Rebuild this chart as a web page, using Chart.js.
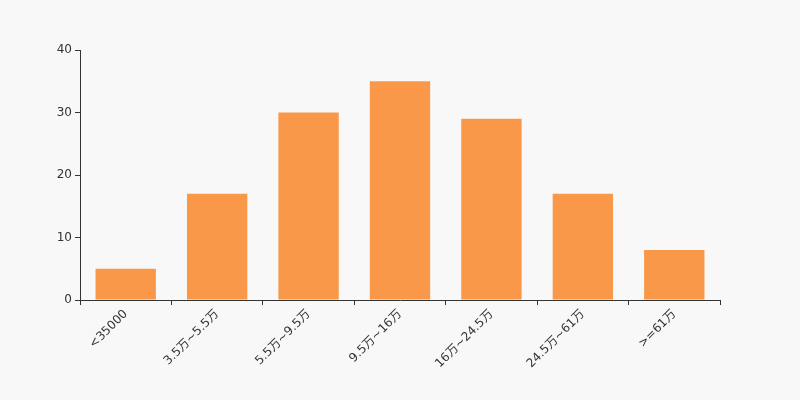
<!DOCTYPE html>
<html>
<head>
<meta charset="utf-8">
<script src="https://cdn.jsdelivr.net/npm/chart.js@4"></script>
<style>
html,body{margin:0;padding:0;background:#f8f8f8;}
#wrap{width:800px;height:400px;}
</style>
</head>
<body>
<div id="wrap"><canvas id="c" width="800" height="400"></canvas></div>
<script>
const categories = ["<35000", "3.5万~5.5万", "5.5万~9.5万", "9.5万~16万", "16万~24.5万", "24.5万~61万", ">=61万"];
const values = [5, 17, 30, 35, 29, 17, 8];
const yTicks = [0, 10, 20, 30, 40];

Chart.defaults.font.family = "'DejaVu Sans', 'Noto Sans CJK SC', sans-serif";
Chart.defaults.font.size = 12;
Chart.defaults.color = '#333';

new Chart(document.getElementById('c'), {
  type: 'bar',
  data: {
    labels: categories,
    datasets: [{
      data: values,
      backgroundColor: '#f89848',
      borderWidth: 0,
      categoryPercentage: 0.66,
      barPercentage: 1.0
    }]
  },
  options: {
    responsive: false,
    animation: false,
    layout: { padding: { left: 0, right: 80, top: 50, bottom: 0 } },
    plugins: { legend: { display: false }, tooltip: { enabled: false } },
    scales: {
      x: {
        grid: { display: true, drawOnChartArea: false, drawTicks: true, tickLength: 5, color: '#333', offset: true },
        border: { color: '#333' },
        ticks: { minRotation: 45, maxRotation: 45, color: '#333', padding: 2, autoSkip: false },
        afterFit: (s) => { s.height = 100; }
      },
      y: {
        min: 0, max: 40,
        afterBuildTicks: (s) => { s.ticks = yTicks.map(v => ({ value: v })); },
        grid: { display: true, drawOnChartArea: false, drawTicks: true, tickLength: 5, color: '#333' },
        border: { color: '#333' },
        ticks: { color: '#333', padding: 3 },
        afterFit: (s) => { s.width = 80; }
      }
    }
  }
});
</script>
</body>
</html>
